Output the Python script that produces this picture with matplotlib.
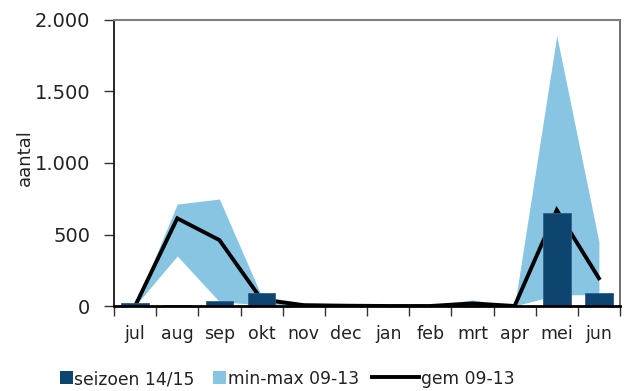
import matplotlib
matplotlib.use("Agg")
import matplotlib.pyplot as plt
from matplotlib.lines import Line2D
from matplotlib.patches import Rectangle
from matplotlib.ticker import FuncFormatter, FixedLocator, NullFormatter
import numpy as np

months = ["jul", "aug", "sep", "okt", "nov", "dec", "jan", "feb", "mrt", "apr", "mei", "jun"]
season_1415 = [18, 8, 32, 88, 0, 0, 0, 0, 0, 0, 648, 90]
min_0913 = [0, 350, 30, 8, 2, 0, 0, 0, 5, 0, 77, 80]
max_0913 = [0, 713, 748, 70, 18, 6, 3, 5, 42, 0, 1890, 450]
mean_0913 = [0, 613, 461, 45, 6, 2, 0, 0, 18, 0, 671, 194]
legend_labels = ["seizoen 14/15", "min-max 09-13", "gem 09-13"]

dark_blue = "#0E4470"
light_blue = "#87C5E3"
text_color = "#222222"

plt.rcParams["font.family"] = ["DejaVu Sans"]

W, H = 633, 391
fig = plt.figure(figsize=(W / 100, H / 100), dpi=100)
ax = fig.add_axes([114 / W, 1 - 306 / H, 506 / W, 286 / H])

x = np.arange(len(months))
ax.fill_between(x, min_0913, max_0913, color=light_blue, linewidth=0, zorder=1)
ax.plot(x, mean_0913, color="black", linewidth=2.8, zorder=2, solid_joinstyle="miter")
ax.bar(x, season_1415, width=0.66, color=dark_blue, edgecolor="#2F5F8A", linewidth=0.6, zorder=3)

ax.set_xlim(-0.5, 11.5)
ax.set_ylim(0, 2000)

# category boundaries carry the tick marks, month names sit in between
ax.xaxis.set_major_locator(FixedLocator(np.arange(-0.5, 12, 1)))
ax.xaxis.set_major_formatter(NullFormatter())
ax.xaxis.set_minor_locator(FixedLocator(x))
ax.set_xticklabels(months, minor=True)
ax.tick_params(axis="x", which="major", direction="out", length=7, width=1, color="#333333")
ax.tick_params(axis="x", which="minor", length=0, pad=14, labelsize=12.5, labelcolor=text_color)

ax.set_yticks([0, 500, 1000, 1500, 2000])
ax.yaxis.set_major_formatter(FuncFormatter(lambda v, p: f"{int(v):,}".replace(",", ".")))
ax.tick_params(axis="y", direction="out", length=7, width=1, color="#333333",
               labelsize=14, labelcolor=text_color, pad=10)

ax.set_ylabel("aantal", fontsize=13, color=text_color)
ax.yaxis.set_label_coords(-80 / 506, 0.52)

ax.spines["left"].set_color("black")
ax.spines["left"].set_linewidth(1.2)
ax.spines["bottom"].set_color("black")
ax.spines["bottom"].set_linewidth(2)
ax.spines["bottom"].set_zorder(5)
ax.spines["top"].set_color("#7f7f7f")
ax.spines["top"].set_linewidth(1.5)
ax.spines["right"].set_color("#555555")
ax.spines["right"].set_linewidth(1.2)

# legend row along the bottom, laid out in pixel coordinates
leg_y = 1 - 377 / H
sq = 13
fig.add_artist(Rectangle((60 / W, leg_y - sq / 2 / H), sq / W, sq / H,
                         transform=fig.transFigure, facecolor=dark_blue, edgecolor="none"))
fig.add_artist(Rectangle((213 / W, leg_y - sq / 2 / H), sq / W, sq / H,
                         transform=fig.transFigure, facecolor=light_blue, edgecolor="none"))
fig.add_artist(Line2D([372 / W, 419 / W], [leg_y, leg_y], transform=fig.transFigure,
                      color="black", linewidth=2.8))
for xp, lab in zip([74, 228, 421], legend_labels):
    fig.text(xp / W, leg_y, lab, ha="left", va="center_baseline", fontsize=12.3, color=text_color)

fig.savefig("out.png", dpi=100)
